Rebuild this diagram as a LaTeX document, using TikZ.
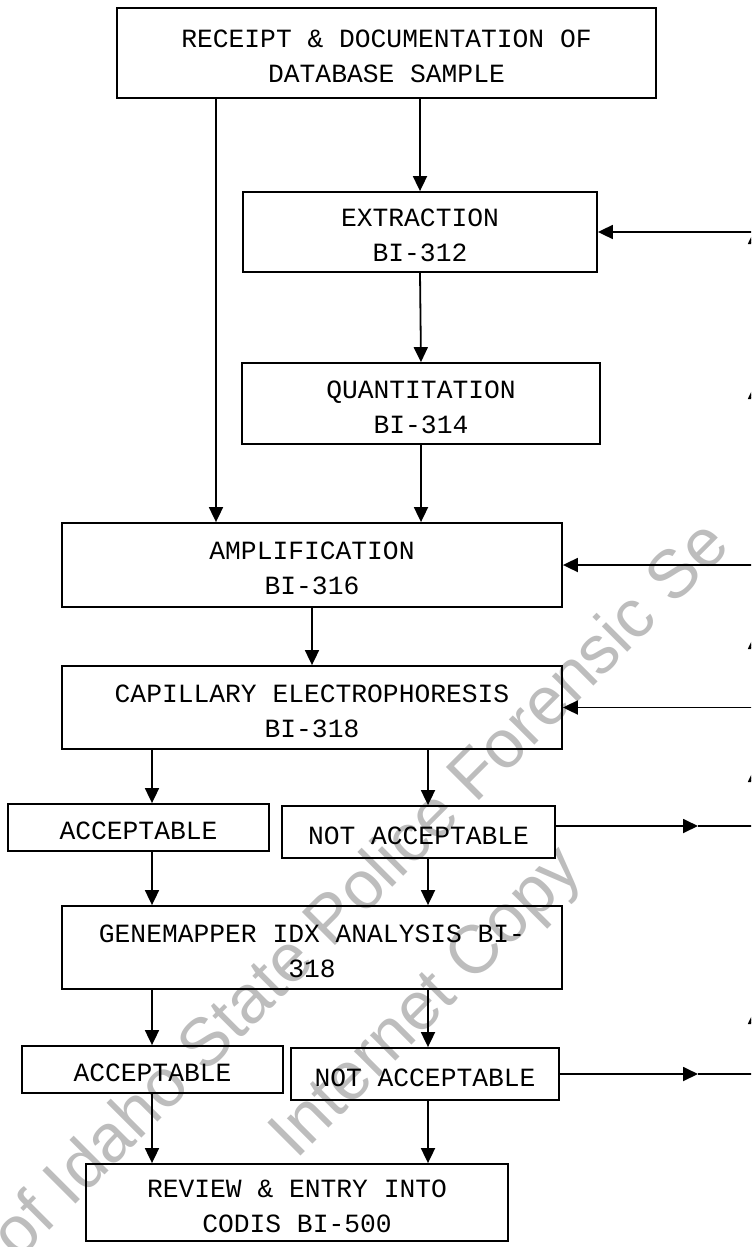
\documentclass[tikz,border=0pt]{standalone}
\usepackage{fontspec}
\usepackage{tikz}
\usetikzlibrary{arrows.meta,calc}
\newfontfamily\flowfont{Liberation Mono}
\newfontfamily\markfont{Liberation Sans}
\newcommand{\topgap}{\rule{0pt}{12.5pt}}
\tikzset{>={Triangle[length=7.5pt,width=7pt]}}
\tikzset{
  flowbox/.style={draw,line width=0.9pt,align=center,inner sep=0pt,
    font=\flowfont\fontsize{13.15}{17.5}\selectfont},
  flowline/.style={line width=0.9pt,->},
  plainline/.style={line width=0.9pt},
  stamp/.style={black!26,font=\markfont\fontsize{34}{40}\selectfont,
    rotate=45,anchor=base west,inner sep=0pt}
}

\begin{document}
\begin{tikzpicture}[x=0.5pt,y=-0.5pt]
  \useasboundingbox (0,0) rectangle (751,1247);
  \clip (0,0) rectangle (751,1247);
  % watermark
  \node[stamp] at (18,1262) (w1) {of Idaho State Police Forensic Se};
  \node[stamp] at (296,1161) (w2) {Internet Copy};
  % columns
  \coordinate (colM) at (216,0);
  \coordinate (colL) at (152,0);
  \coordinate (colR) at (428,0);
  \coordinate (tip) at (698,0);
  \coordinate (rim) at (755,0);
  % boxes
  \node[flowbox,minimum width=269.5pt,minimum height=45pt] at (386.5,53) (rec) {\topgap RECEIPT \& DOCUMENTATION OF\\DATABASE SAMPLE};
  \node[flowbox,minimum width=177pt,minimum height=40pt] at (420,232) (ext) {\topgap EXTRACTION\\BI-312};
  \node[flowbox,minimum width=179pt,minimum height=40.5pt] at (421,403.5) (quant) {\topgap QUANTITATION\\BI-314};
  \node[flowbox,minimum width=250pt,minimum height=42pt] at (312,565) (amp) {\topgap AMPLIFICATION\\BI-316};
  \node[flowbox,minimum width=250pt,minimum height=41.5pt] at (312,707.5) (ce) {\topgap CAPILLARY ELECTROPHORESIS\\BI-318};
  \node[flowbox,minimum width=130.5pt,minimum height=23.5pt] at (138.5,827.5) (accA) {\topgap ACCEPTABLE};
  \node[flowbox,minimum width=136.5pt,minimum height=26pt] at (418.5,832) (notA) {\topgap NOT ACCEPTABLE};
  \node[flowbox,minimum width=250pt,minimum height=41.5pt] at (312,947.5) (gene) {\topgap GENEMAPPER IDX ANALYSIS BI-\\318};
  \node[flowbox,minimum width=130.5pt,minimum height=23.5pt] at (152.5,1069.5) (accB) {\topgap ACCEPTABLE};
  \node[flowbox,minimum width=134pt,minimum height=26pt] at (425,1074) (notB) {\topgap NOT ACCEPTABLE};
  \node[flowbox,minimum width=211pt,minimum height=38.5pt] at (297,1202.5) (rev) {\topgap REVIEW \& ENTRY INTO\\CODIS BI-500};
  % down the middle
  \draw[flowline] (rec.south -| ext) -- (ext.north);
  \draw[flowline] (rec.south -| colM) -- (amp.north -| colM);
  \draw[flowline] (ext.south) -- (quant.north);
  \draw[flowline] (quant.south) -- (quant.south |- amp.north);
  \draw[flowline] (amp.south) -- (ce.north);
  \draw[flowline] (ce.south -| colL) -- (accA.north -| colL);
  \draw[flowline] (ce.south -| colR) -- (notA.north -| colR);
  \draw[flowline] (accA.south -| colL) -- (gene.north -| colL);
  \draw[flowline] (notA.south -| colR) -- (gene.north -| colR);
  \draw[flowline] (gene.south -| colL) -- (accB.north -| colL);
  \draw[flowline] (gene.south -| colR) -- (notB.north -| colR);
  \draw[flowline] (accB.south -| colL) -- (rev.north -| colL);
  \draw[flowline] (notB.south -| colR) -- (rev.north -| colR);
  % back from the right
  \draw[flowline] (ext.east -| rim) -- (ext.east);
  \draw[flowline] (amp.east -| rim) -- (amp.east);
  \draw[flowline] (ce.east -| rim) -- (ce.east);
  \draw[flowline] ([yshift=3pt]notA.east) -- ([yshift=3pt]notA.east -| tip);
  \draw[plainline] ([yshift=3pt]notA.east -| tip) -- ([yshift=3pt]notA.east -| rim);
  \draw[flowline] (notB.east) -- (notB.east -| tip);
  \draw[plainline] (notB.east -| tip) -- (notB.east -| rim);
  \foreach \y in {229,384,634,767,1009}
     \draw[flowline] (755,\y+20) -- (755,\y);
\end{tikzpicture}
\end{document}
